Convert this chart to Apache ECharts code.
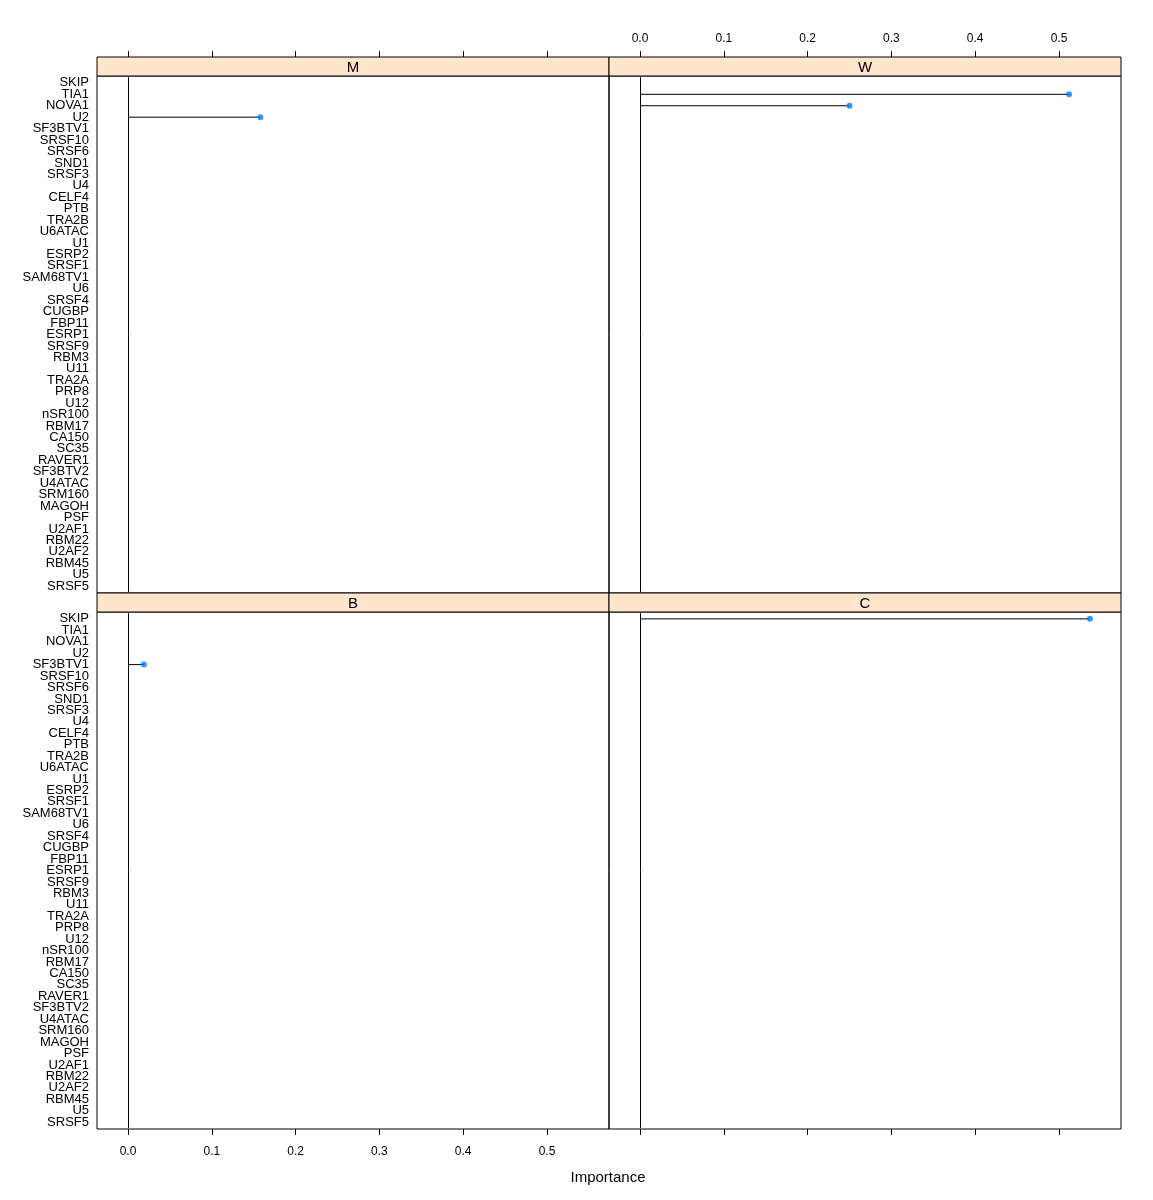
<!DOCTYPE html>
<html>
<head>
<meta charset="utf-8">
<script src="https://cdn.jsdelivr.net/npm/echarts@6/dist/echarts.min.js"></script>
<style>html,body{margin:0;padding:0;background:#fff;}#chart{width:1153px;height:1200px;}</style>
</head>
<body>
<div id="chart"></div>
<script>
const categories = ["SKIP","TIA1","NOVA1","U2","SF3BTV1","SRSF10","SRSF6","SND1","SRSF3","U4","CELF4","PTB","TRA2B","U6ATAC","U1","ESRP2","SRSF1","SAM68TV1","U6","SRSF4","CUGBP","FBP11","ESRP1","SRSF9","RBM3","U11","TRA2A","PRP8","U12","nSR100","RBM17","CA150","SC35","RAVER1","SF3BTV2","U4ATAC","SRM160","MAGOH","PSF","U2AF1","RBM22","U2AF2","RBM45","U5","SRSF5"];
const panelNames = ["M", "W", "B", "C"];
// non-missing importance values per panel (category -> value)
const valuesM = {"U2": 0.158};
const valuesW = {"TIA1": 0.512, "NOVA1": 0.250};
const valuesB = {"SF3BTV1": 0.019};
const valuesC = {"SKIP": 0.537};
const tickValues = [0, 0.1, 0.2, 0.3, 0.4, 0.5];
const xTitle = "Importance";

const panelValues = [valuesM, valuesW, valuesB, valuesC];
const FONT = "Liberation Sans, Arial, sans-serif";

// layout
const L = {
  colLeft: [97, 609], colWidth: 512,
  stripTop: [57, 593], stripH: 19, plotH: 517
};
const n = categories.length;
const band = L.plotH / (n + 0.2);   // lattice pads factor axis by 0.6 units each side
const inset = 0.1 * band;           // extra beyond category axis' 0.5 boundary gap

const grids = [], xAxes = [], yAxes = [], series = [], graphics = [];
for (let i = 0; i < 4; i++) {
  const col = i % 2, row = Math.floor(i / 2);
  const left = L.colLeft[col];
  const top = L.stripTop[row] + L.stripH;
  const isTop = row === 0;
  grids.push({left: left, top: top + inset, width: L.colWidth, height: L.plotH - 2 * inset,
    show: false, containLabel: false});
  const showLabels = (isTop && col === 1) || (!isTop && col === 0);
  xAxes.push({
    type: 'value', gridIndex: i, min: -0.037, max: 0.574,
    position: isTop ? 'top' : 'bottom',
    offset: isTop ? L.stripH + inset : inset,
    axisLine: {show: false},
    axisTick: {show: true, length: 6, inside: false, customValues: tickValues, lineStyle: {color: '#000', width: 1}},
    axisLabel: {show: showLabels, customValues: tickValues, margin: isTop ? 12 : 17, color: '#000', fontFamily: FONT, fontSize: 12,
      formatter: v => v.toFixed(1)},
    splitLine: {show: false}
  });
  yAxes.push({
    type: 'category', gridIndex: i, data: categories, inverse: true, boundaryGap: true,
    axisLine: {show: false}, axisTick: {show: false}, splitLine: {show: false},
    axisLabel: {show: col === 0, interval: 0, margin: 8, color: '#000', fontFamily: FONT, fontSize: 13, lineHeight: 11,
      padding: [4, 0, 0, 0]}
  });
  const vals = panelValues[i];
  const data = categories.filter(c => c in vals).map(c => [vals[c], c]);
  series.push({
    type: 'custom', xAxisIndex: i, yAxisIndex: i, data: data, silent: true, animation: false,
    renderItem: function (params, api) {
      const p0 = api.coord([0, api.value(1)]);
      const p1 = api.coord([api.value(0), api.value(1)]);
      return {type: 'line', shape: {x1: p0[0], y1: p0[1], x2: p1[0], y2: p1[1]},
        style: {stroke: '#000', lineWidth: 1}};
    },
    markLine: {silent: true, symbol: 'none', animation: false, label: {show: false},
      lineStyle: {color: '#000', type: 'solid', width: 1}, data: [{xAxis: 0}]}
  });
  series.push({
    type: 'scatter', xAxisIndex: i, yAxisIndex: i, data: data, symbol: 'circle', symbolSize: 6,
    itemStyle: {color: '#0080ff'}, silent: true, animation: false, z: 5
  });
  // panel frame
  graphics.push({
    type: 'rect', shape: {x: left, y: top, width: L.colWidth, height: L.plotH},
    style: {fill: null, stroke: '#000', lineWidth: 1}, z: 9, silent: true
  });
  // strip
  graphics.push({
    type: 'rect', shape: {x: left, y: L.stripTop[row], width: L.colWidth, height: L.stripH},
    style: {fill: '#ffe5cc', stroke: '#000', lineWidth: 1}, z: 10
  });
  graphics.push({
    type: 'text', x: left + L.colWidth / 2, y: L.stripTop[row] + L.stripH / 2 + 1, z: 11,
    style: {text: panelNames[i], fill: '#000', font: '15px ' + FONT, align: 'center', verticalAlign: 'middle'}
  });
}
graphics.push({type: 'text', x: 608, y: 1178, style: {text: xTitle, fill: '#000', font: '15px ' + FONT, align: 'center', verticalAlign: 'middle'}});

const chart = echarts.init(document.getElementById('chart'), null, {renderer: 'canvas'});
chart.setOption({
  animation: false,
  backgroundColor: '#fff',
  grid: grids, xAxis: xAxes, yAxis: yAxes, series: series, graphic: graphics
});
</script>
</body>
</html>
